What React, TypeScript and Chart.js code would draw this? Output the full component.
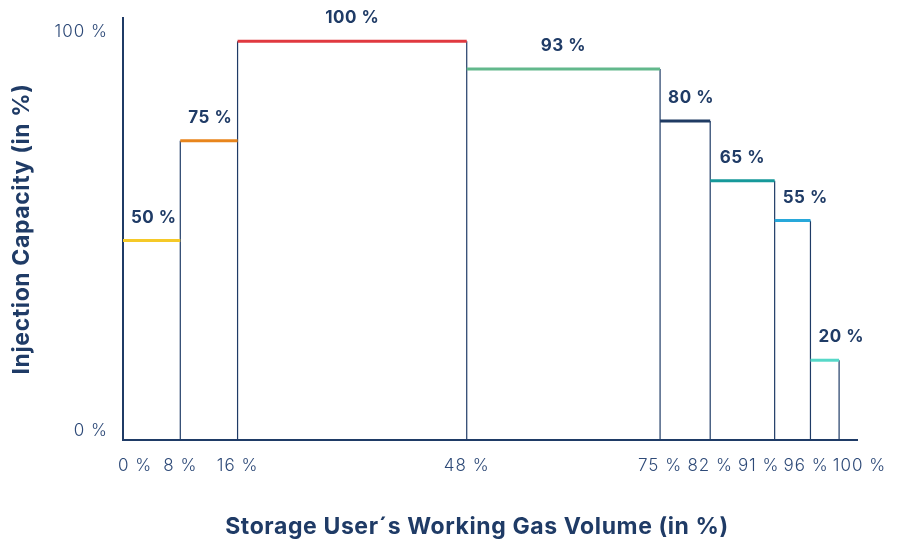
import React, { useEffect, useRef } from "react";
import { Chart, registerables } from "chart.js";

Chart.register(...registerables);

// Segment boundaries (working gas volume, %)
const boundaries: number[] = [0, 8, 16, 48, 75, 82, 91, 96, 100];
// Injection capacity for each segment (%)
const capacities: number[] = [50, 75, 100, 93, 80, 65, 55, 20];
// Segment label texts
const capacityLabels: string[] = ["50 %", "75 %", "100 %", "93 %", "80 %", "65 %", "55 %", "20 %"];
// Segment colours
const segmentColors: string[] = [
  "#F5C928",
  "#E8851C",
  "#E0393F",
  "#62B88C",
  "#1F3B63",
  "#16999A",
  "#28A8DA",
  "#56D8C8",
];
const yTickValues: number[] = [0, 100];
const xTitle = "Storage User´s Working Gas Volume (in %)";
const yTitle = "Injection Capacity (in %)";

const NAVY = "#1F3B66";
const TICK_COLOR = "#2E4A78";
const FONT = "Inter, 'Open Sans', sans-serif";
const TICK_FONT = `300 17px ${FONT}`;
const TITLE_FONT = `bold 23px ${FONT}`;

const fmt = (v: number) => `${v} %`;

const textPlugin = {
  id: "customText",
  afterDatasetsDraw(chart: any) {
    const { ctx, scales, chartArea } = chart;
    const xs = scales.x;
    const ys = scales.y;
    ctx.save();
    // segment labels
    ctx.font = `bold 17px ${FONT}`;
    ctx.fillStyle = NAVY;
    ctx.textBaseline = "middle";
    ctx.textAlign = "left";
    (ctx as any).letterSpacing = "0.5px";
    for (let i = 0; i < capacities.length; i++) {
      const x0 = xs.getPixelForValue(boundaries[i]);
      const x1 = xs.getPixelForValue(boundaries[i + 1]);
      const y = ys.getPixelForValue(capacities[i]);
      const w = ctx.measureText(capacityLabels[i]).width;
      const mid = (x0 + x1) / 2;
      const left = Math.max(x0 + 8, mid - w / 2);
      ctx.fillText(capacityLabels[i], left, y - 23);
    }

    // y tick labels
    ctx.font = TICK_FONT;
    (ctx as any).letterSpacing = "1px";
    ctx.fillStyle = TICK_COLOR;
    ctx.textAlign = "right";
    for (const v of yTickValues) {
      ctx.fillText(fmt(v), chartArea.left - 15, ys.getPixelForValue(v) - 9);
    }

    // x tick labels with overlap avoidance
    ctx.textAlign = "left";
    const items = boundaries.map((v) => {
      const t = fmt(v);
      const w = ctx.measureText(t).width;
      const c = xs.getPixelForValue(v);
      return { t, w, l: c - w / 2 };
    });
    items[0].l = Math.max(items[0].l, chartArea.left - 5);
    const gap = 4;
    for (let iter = 0; iter < 100; iter++) {
      for (let i = 1; i < items.length; i++) {
        const ov = items[i - 1].l + items[i - 1].w + gap - items[i].l;
        if (ov > 0) {
          if (i - 1 === 0) {
            items[i].l += ov;
          } else {
            items[i - 1].l -= ov / 2;
            items[i].l += ov / 2;
          }
        }
      }
    }
    for (const it of items) ctx.fillText(it.t, it.l, chartArea.bottom + 26);

    // axis titles
    ctx.font = TITLE_FONT;
    (ctx as any).letterSpacing = "0.6px";
    ctx.fillStyle = NAVY;
    ctx.textAlign = "center";
    ctx.fillText(xTitle, (chartArea.left + chartArea.right) / 2 - 13, chart.height - 19);
    ctx.translate(22, (chartArea.top + chartArea.bottom) / 2);
    ctx.rotate(-Math.PI / 2);
    ctx.fillText(yTitle, 0, 0);
    ctx.restore();
  },
};

export default function App() {
  const canvasRef = useRef<HTMLCanvasElement | null>(null);

  useEffect(() => {
    if (!canvasRef.current) return;
    const datasets: any[] = [];
    // vertical boundary lines
    for (let i = 1; i < boundaries.length; i++) {
      const left = capacities[i - 1];
      const right = i < capacities.length ? capacities[i] : 0;
      datasets.push({
        data: [
          { x: boundaries[i], y: 0 },
          { x: boundaries[i], y: Math.max(left, right) },
        ],
        borderColor: NAVY,
        borderWidth: 1.2,
        pointRadius: 0,
        fill: false,
        order: 2,
      });
    }
    // horizontal capacity segments
    for (let i = 0; i < capacities.length; i++) {
      datasets.push({
        data: [
          { x: boundaries[i], y: capacities[i] },
          { x: boundaries[i + 1], y: capacities[i] },
        ],
        borderColor: segmentColors[i],
        borderWidth: 3,
        pointRadius: 0,
        fill: false,
        order: 1,
      });
    }

    const chart = new Chart(canvasRef.current, {
      type: "line",
      data: { datasets },
      plugins: [textPlugin],
      options: {
        animation: false,
        responsive: true,
        maintainAspectRatio: false,
        layout: { padding: { top: 18, right: 48, left: 0, bottom: 0 } },
        plugins: { legend: { display: false }, tooltip: { enabled: false } },
        scales: {
          x: {
            type: "linear",
            min: 0,
            max: 102.5,
            grid: { display: false, drawTicks: false },
            border: { display: true, color: NAVY, width: 2 },
            ticks: { display: false },
            afterFit: (scale: any) => {
              scale.height = 106;
            },
          },
          y: {
            type: "linear",
            min: 0,
            max: 105.8,
            grid: { display: false, drawTicks: false },
            border: { display: true, color: NAVY, width: 2 },
            ticks: { display: false },
            afterFit: (scale: any) => {
              scale.width = 123;
            },
          },
        },
      },
    });
    return () => chart.destroy();
  }, []);

  return (
    <div style={{ position: "absolute", left: 0, top: 0, width: 905, height: 546, background: "#fff" }}>
      <canvas ref={canvasRef} />
    </div>
  );
}
